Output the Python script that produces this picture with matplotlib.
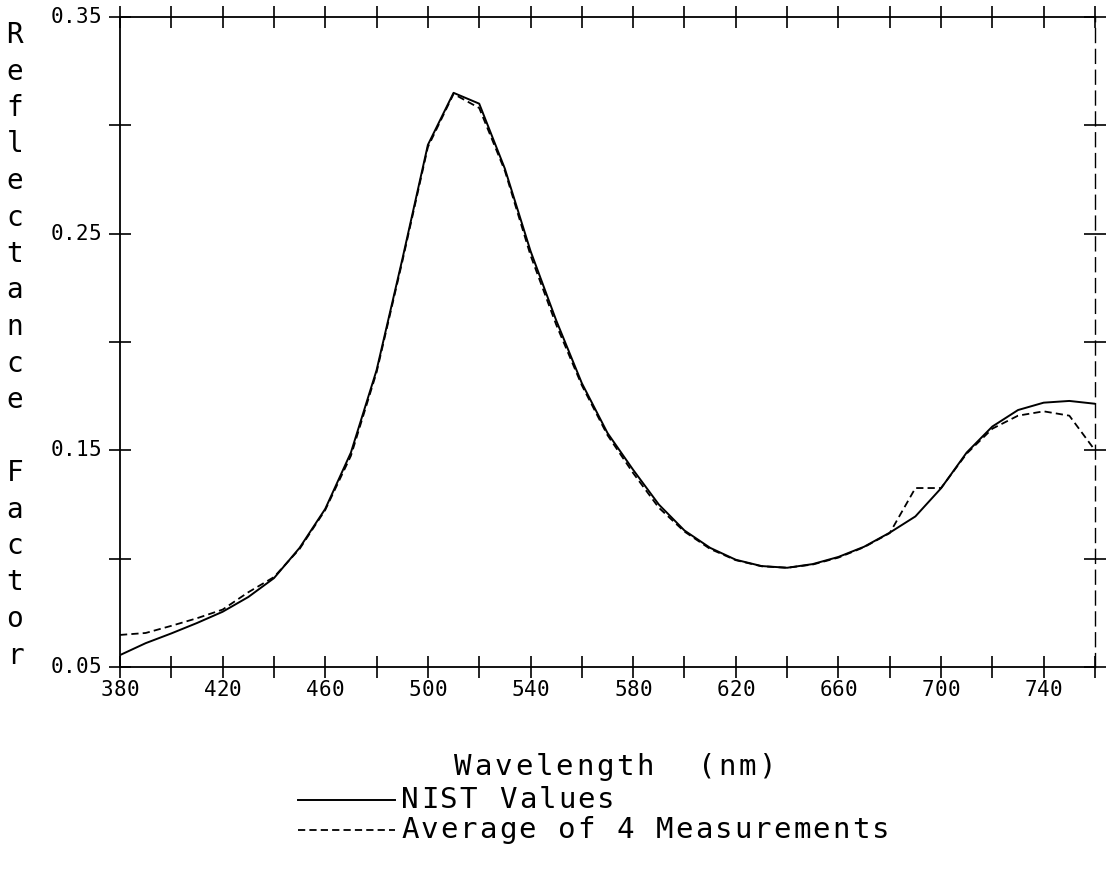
import matplotlib
matplotlib.use("Agg")
import matplotlib.pyplot as plt
from matplotlib.lines import Line2D

# wavelength grid (nm)
wavelength = [380, 390, 400, 410, 420, 430, 440, 450, 460, 470,
              480, 490, 500, 510, 520, 530, 540, 550, 560, 570,
              580, 590, 600, 610, 620, 630, 640, 650, 660, 670,
              680, 690, 700, 710, 720, 730, 740, 750, 760]

nist_values = [0.0555, 0.0610, 0.0655, 0.0703, 0.0755, 0.0823, 0.0910, 0.1050, 0.1230, 0.1490,
               0.1870, 0.2380, 0.2910, 0.3150, 0.3100, 0.2800, 0.2420, 0.2100, 0.1810, 0.1580,
               0.1410, 0.1250, 0.1130, 0.1050, 0.0995, 0.0966, 0.0958, 0.0975, 0.1008, 0.1055,
               0.1120, 0.1195, 0.1325, 0.1490, 0.1610, 0.1686, 0.1720, 0.1728, 0.1715]

avg_4_meas = [0.0648, 0.0657, 0.0690, 0.0725, 0.0765, 0.0845, 0.0915, 0.1045, 0.1225, 0.1475,
              0.1860, 0.2370, 0.2900, 0.3145, 0.3080, 0.2790, 0.2400, 0.2080, 0.1800, 0.1570,
              0.1395, 0.1235, 0.1125, 0.1045, 0.0993, 0.0965, 0.0958, 0.0973, 0.1005, 0.1053,
              0.1118, 0.1326, 0.1326, 0.1485, 0.1600, 0.1660, 0.1680, 0.1660, 0.1500]

x_ticks = [380, 400, 420, 440, 460, 480, 500, 520, 540, 560, 580,
           600, 620, 640, 660, 680, 700, 720, 740, 760]
x_labeled = [380, 420, 460, 500, 540, 580, 620, 660, 700, 740]
y_ticks = [0.05, 0.10, 0.15, 0.20, 0.25, 0.30, 0.35]
y_labeled = [0.05, 0.15, 0.25, 0.35]

series_labels = ['NIST Values', 'Average of 4 Measurements']

mono = 'DejaVu Sans Mono'
W, H = 1110, 886
DASH = (0, (4, 2.3))


def spaced(x, y, s, adv, size, ha='left'):
    # plotter-style text: each character on a fixed advance (pixel coords, y from top)
    n = len(s)
    if ha == 'center':
        x0 = x - (n - 1) * adv / 2
    elif ha == 'right':
        x0 = x - (n - 1) * adv - adv / 2
    else:
        x0 = x + adv / 2
    for i, ch in enumerate(s):
        fig.text((x0 + i * adv) / W, 1 - y / H, ch, fontfamily=mono, fontsize=size,
                 ha='center', va='center')


fig = plt.figure(figsize=(W / 100, H / 100), dpi=100)
ax = fig.add_axes([120 / W, 1 - 667 / H, (1095 - 120) / W, (667 - 17) / H])

ax.plot(wavelength, nist_values, color='black', lw=1.4)
ax.plot(wavelength, avg_4_meas, color='black', lw=1.3, linestyle=DASH)

ax.set_xlim(380, 760)
ax.set_ylim(0.05, 0.35)
ax.set_xticks(x_ticks)
ax.set_yticks(y_ticks)
ax.set_xticklabels([])
ax.set_yticklabels([])
ax.tick_params(axis='both', direction='inout', length=16, width=1.2, color='black',
               top=True, right=True)

for side in ['left', 'bottom', 'top']:
    ax.spines[side].set_linewidth(1.3)
ax.spines['right'].set_linewidth(1.0)
ax.spines['right'].set_linestyle((0, (10, 5)))

# tick labels placed through the axes transform
for v in x_labeled:
    px = ax.transData.transform((v, 0.05))[0]
    spaced(px, 690, str(v), 12.7, 15, ha='center')
for v in y_labeled:
    py = H - ax.transData.transform((380, v))[1]
    spaced(101, py, f'{v:.2f}', 12.5, 15, ha='right')

# x label
spaced(615, 767, 'Wavelength  (nm)', 20.3, 21, ha='center')

# stacked y label
for i, ch in enumerate('Reflectance Factor'):
    fig.text(15 / W, 1 - (35 + i * 36.5) / H, ch, fontfamily=mono, fontsize=20,
             ha='center', va='center')

# legend
for row, (lab, ls, lw) in enumerate(zip(series_labels, ['-', DASH], [1.4, 1.3])):
    ypx = 800 + row * 30
    fig.add_artist(Line2D([298 / W, 395 / W], [1 - ypx / H] * 2, color='black',
                          lw=lw, linestyle=ls, transform=fig.transFigure))
    spaced(400, ypx, lab, 19.6, 21)

fig.savefig('out.png', dpi=100)
